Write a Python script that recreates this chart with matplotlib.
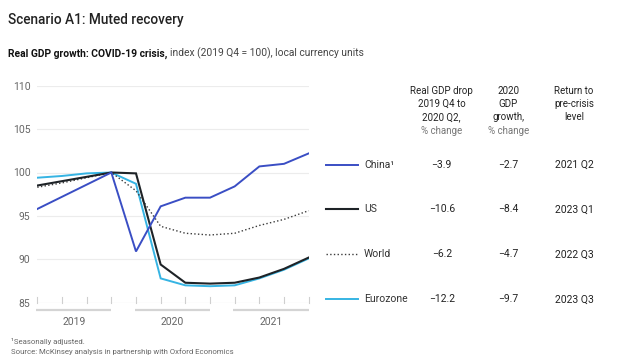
import matplotlib
matplotlib.use('Agg')
import matplotlib.pyplot as plt

plt.rcParams['font.family'] = ['Roboto', 'DejaVu Sans']

# Datos (indice 2019 Q4 = 100), trimestres 2019 Q1 .. 2021 Q4
quarters = list(range(12))
years = ['2019', '2020', '2021']
china = [95.8, 97.2, 98.6, 100.0, 90.9, 96.1, 97.1, 97.1, 98.4, 100.7, 101.0, 102.2]
us = [98.5, 99.0, 99.5, 100.0, 99.9, 89.4, 87.3, 87.2, 87.3, 87.9, 88.9, 90.2]
world = [98.3, 98.8, 99.4, 100.0, 97.9, 93.8, 93.0, 92.8, 93.0, 93.9, 94.6, 95.6]
eurozone = [99.4, 99.6, 99.9, 100.0, 98.7, 87.8, 87.0, 86.9, 87.0, 87.8, 88.8, 90.1]
y_ticks = [85, 90, 95, 100, 105, 110]

# Tabla a la derecha
row_names = ['China', 'US', 'World', 'Eurozone']
gdp_drop = ['\u22123.9', '\u221210.6', '\u22126.2', '\u221212.2']
growth_2020 = ['\u22122.7', '\u22128.4', '\u22124.7', '\u22129.7']
return_level = ['2021 Q2', '2023 Q1', '2022 Q3', '2023 Q3']

colors = {'China': '#3a4ec4', 'US': '#1e2327', 'World': '#3a3a3a', 'Eurozone': '#36b4e3'}
styles = {'China': '-', 'US': '-', 'World': ':', 'Eurozone': '-'}
widths = {'China': 1.4, 'US': 1.5, 'World': 1.0, 'Eurozone': 1.4}

W, H = 640, 364
fig = plt.figure(figsize=(W / 100, H / 100), dpi=100)
fig.patch.set_facecolor('white')

def fx(px):
    return px / W

def fy(py):
    return 1 - py / H

ax = fig.add_axes([fx(37.3), fy(302.7), fx(308.7) - fx(37.3), fy(85.7) - fy(302.7)])
ax.set_xlim(0, 11)
ax.set_ylim(85, 110)

for yt in y_ticks[1:]:
    ax.axhline(yt, color='#ececec', lw=0.8, zorder=0)
ax.axhline(85, color='#cfcfcf', lw=0.8, zorder=0)
for q in quarters:
    ax.plot([q, q], [85, 85.6], color='#cfcfcf', lw=0.8, zorder=0, clip_on=False)

series = {'Eurozone': eurozone, 'World': world, 'US': us, 'China': china}
for name, vals in series.items():
    ax.plot(quarters, vals, color=colors[name], ls=styles[name], lw=widths[name],
            solid_joinstyle='miter', zorder=3)

ax.set_yticks(y_ticks)
ax.set_yticklabels([str(v) for v in y_ticks])
ax.tick_params(axis='y', length=0, pad=5, labelsize=7.5, labelcolor='#666666')
ax.set_xticks([])
for s in ax.spines.values():
    s.set_visible(False)

# Barras de anio y etiquetas
for i, yr in enumerate(years):
    x0, x1 = i * 4 - 0.05, i * 4 + 3
    if i == 2:
        x0 = i * 4 - 0.07
    ax.plot([x0, x1], [84.2, 84.2], color='#d4d4d4', lw=1.6, clip_on=False,
            solid_capstyle='butt')
    ax.text((x0 + x1) / 2, 83.3, yr, ha='center', va='top', fontsize=7.5,
            color='#666666', clip_on=False)

# Titulos
fig.text(fx(8), fy(20), 'Scenario A1: Muted recovery', fontsize=9.8, fontweight='medium',
         color='#222222', va='center', ha='left')
t1 = fig.text(fx(8), fy(53.5), 'Real GDP growth: COVID-19 crisis,', fontsize=7.4,
              fontweight='bold', color='#111111', va='center', ha='left')
fig.canvas.draw()
bb = t1.get_window_extent(renderer=fig.canvas.get_renderer())
fig.text(bb.x1 / W + fx(3), fy(53.5), 'index (2019 Q4 = 100), local currency units',
         fontsize=7.4, color='#444444', va='center', ha='left')

# Encabezados de la tabla
col_x = [441.7, 508.3, 574]
header_y = [90.7, 104, 117.3, 130.7]
headers = [
    ['Real GDP drop', '2019 Q4 to', '2020 Q2,', '% change'],
    ['2020', 'GDP', 'growth,', '% change'],
    ['Return to', 'pre-crisis', 'level'],
]
for cx, lines in zip(col_x, headers):
    for j, line in enumerate(lines):
        c = '#777777' if line == '% change' else '#222222'
        fig.text(fx(cx), fy(header_y[j]), line, fontsize=7.0, color=c,
                 ha='center', va='center')

row_y = [165, 209.3, 254.3, 299.3]
for name, ry, a, b, c in zip(row_names, row_y, gdp_drop, growth_2020, return_level):
    fig.add_artist(plt.Line2D([fx(326), fx(358)], [fy(ry), fy(ry)], color=colors[name],
                              ls=styles[name], lw=widths[name], transform=fig.transFigure))
    label = name + '\u00b9' if name == 'China' else name
    fig.text(fx(364), fy(ry), label, fontsize=7.5, color='#333333', ha='left', va='center')
    fig.text(fx(col_x[0]), fy(ry), a, fontsize=7.5, color='#222222', ha='center', va='center')
    fig.text(fx(col_x[1]), fy(ry), b, fontsize=7.5, color='#222222', ha='center', va='center')
    fig.text(fx(col_x[2]), fy(ry), c, fontsize=7.5, color='#222222', ha='center', va='center')

# Notas
fig.text(fx(11), fy(341.7), '\u00b9Seasonally adjusted.', fontsize=5.6, color='#666666',
         ha='left', va='center')
fig.text(fx(11), fy(351.7), 'Source: McKinsey analysis in partnership with Oxford Economics',
         fontsize=5.6, color='#666666', ha='left', va='center')

fig.savefig('out.png', dpi=100, facecolor='white')
